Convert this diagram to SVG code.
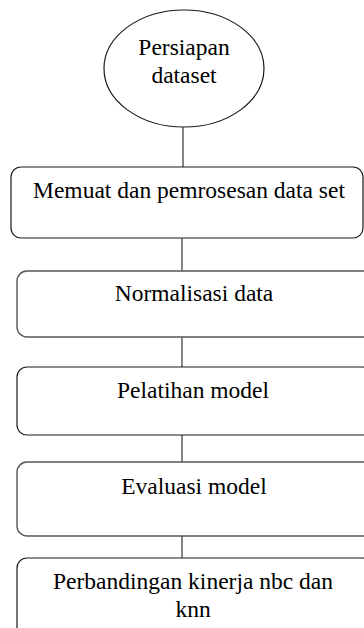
<svg xmlns="http://www.w3.org/2000/svg" width="364" height="628" viewBox="0 0 364 628">
<style>
.n{fill:#fff;stroke:#1a1a1a;stroke-width:1.2}
.g{stroke:#555;stroke-width:1.4}
.t{font-size:23.5px;fill:#000;text-anchor:middle}
.c{stroke:#333;stroke-width:1.2;fill:none}
</style>
<rect width="364" height="628" fill="#fff"/>
<g id="connectors">
<line class="c" x1="183" y1="127" x2="183" y2="167"/>
<line class="c" x1="182" y1="238" x2="182" y2="271"/>
<line class="c" x1="182" y1="337" x2="182" y2="367"/>
<line class="c" x1="182" y1="435" x2="182" y2="462"/>
<line class="c" x1="182" y1="536" x2="182" y2="558"/>
</g>
<g font-family="'Liberation Serif', 'Times New Roman', 'DejaVu Serif', serif">
<g id="n0">
<ellipse class="n" cx="184" cy="68.5" rx="80" ry="58.5"/>
<text class="t" x="184" y="55">Persiapan</text>
<text class="t" x="184" y="83">dataset</text>
</g>
<g id="n1">
<rect class="n" x="11" y="167" width="352" height="71" rx="10"/>
<text class="t" x="189" y="198">Memuat dan pemrosesan data set</text>
</g>
<g id="n2">
<rect class="n g" x="17" y="271" width="356" height="66" rx="10"/>
<text class="t" x="194" y="301">Normalisasi data</text>
</g>
<g id="n3">
<rect class="n" x="17" y="367" width="356" height="68" rx="10"/>
<text class="t" x="193" y="398">Pelatihan model</text>
</g>
<g id="n4">
<rect class="n g" x="17" y="462" width="356" height="74" rx="10"/>
<text class="t" x="194" y="494">Evaluasi model</text>
</g>
<g id="n5">
<rect class="n" x="17" y="558" width="356" height="90" rx="10"/>
<text class="t" x="193" y="589">Perbandingan kinerja nbc dan</text>
<text class="t" x="193" y="617">knn</text>
</g>
</g>
</svg>
